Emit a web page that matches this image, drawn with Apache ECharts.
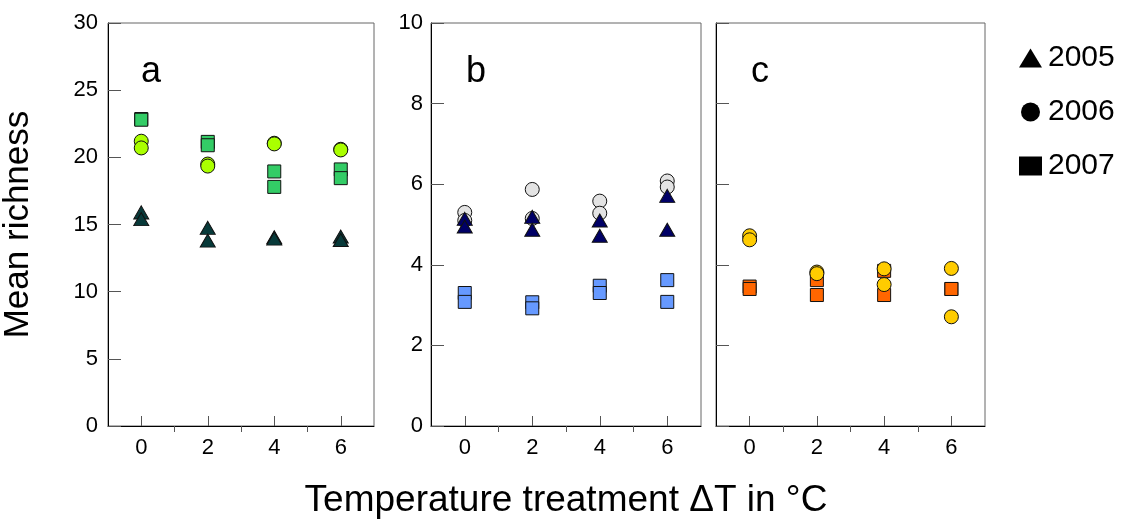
<!DOCTYPE html>
<html>
<head>
<meta charset="utf-8">
<script src="https://cdn.jsdelivr.net/npm/echarts@6/dist/echarts.min.js"></script>
<style>
  html, body { margin: 0; padding: 0; background: #fff; }
  #chart { width: 1126px; height: 524px; }
</style>
</head>
<body>
<div id="chart"></div>
<script>
// Warming treatments (ΔT in °C); two replicate plots per treatment
const treatmentX = [0, 0, 2, 2, 4, 4, 6, 6];
const years = ['2005', '2006', '2007'];

// Panel a: mean richness per plot
const a2005 = [15.9, 15.4, 14.75, 13.8, 14.05, 13.95, 14.1, 13.85];
const a2006 = [21.2, 20.7, 19.5, 19.35, 21.05, 21.0, 20.6, 20.55];
const a2007 = [22.85, 22.8, 21.15, 20.9, 18.95, 17.8, 19.1, 18.45];

// Panel b
const b2005 = [5.14, 4.95, 5.19, 4.87, 5.10, 4.72, 5.71, 4.87];
const b2006 = [5.30, 5.10, 5.87, 5.15, 5.58, 5.28, 6.08, 5.93];
const b2007 = [3.30, 3.08, 3.07, 2.92, 3.48, 3.30, 3.62, 3.08];

// Panel c (no 2005 data)
const c2006 = [4.72, 4.62, 3.82, 3.78, 3.90, 3.51, 3.91, 2.71];
const c2007 = [3.46, 3.40, 3.62, 3.25, 3.85, 3.25, 3.40, 3.40];

const xTickValues = [0, 2, 4, 6];
const xMinorValues = [1, 3, 5];
const panelLetters = ['a', 'b', 'c'];

const FONT = 'Liberation Sans, Arial, Helvetica, sans-serif';

const grids = [
  { left: 106, top: 23, width: 268, height: 403 },
  { left: 431, top: 23, width: 270, height: 403 },
  { left: 716, top: 23, width: 269, height: 403 }
];

const symbolFor = { '2005': 'triangle', '2006': 'circle', '2007': 'rect' };
const sizeFor = { '2005': [15, 13], '2006': 14, '2007': 13 };

function pts(values) {
  return values.map((v, i) => [treatmentX[i], v]);
}

function scatter(panel, year, values, color) {
  return {
    type: 'scatter',
    name: year,
    xAxisIndex: panel * 2,
    yAxisIndex: panel,
    symbol: symbolFor[year],
    symbolSize: sizeFor[year],
    itemStyle: { color: color, borderColor: '#111', borderWidth: 1, opacity: 1 },
    emphasis: { disabled: true },
    data: pts(values)
  };
}

const xAxes = [];
const yAxes = [];
grids.forEach((g, i) => {
  // main x axis: ticks and labels at even treatments
  xAxes.push({
    type: 'value', gridIndex: i, min: -1, max: 7, interval: 1,
    name: i === 1 ? 'Temperature treatment \u0394T in \u00B0C' : '',
    nameLocation: 'middle', nameGap: 56,
    nameTextStyle: { fontFamily: FONT, fontSize: 37, color: '#000' },
    axisLine: { show: true, onZero: false, lineStyle: { color: '#000', width: 1 } },
    axisTick: { show: true, inside: true, length: 10, customValues: xTickValues,
                lineStyle: { color: '#555' } },
    axisLabel: { show: true, customValues: xTickValues, margin: 11,
                 fontFamily: FONT, fontSize: 22, color: '#000' },
    splitLine: { show: false }
  });
  // secondary x axis: short ticks at odd treatments
  xAxes.push({
    type: 'value', gridIndex: i, min: -1, max: 7, interval: 1,
    axisLine: { show: false },
    axisTick: { show: true, inside: true, length: 6, customValues: xMinorValues,
                lineStyle: { color: '#555' } },
    axisLabel: { show: false },
    splitLine: { show: false }
  });
  yAxes.push({
    type: 'value', gridIndex: i, min: 0,
    max: i === 0 ? 30 : 10, interval: i === 0 ? 5 : 2,
    name: i === 0 ? 'Mean richness' : '',
    nameLocation: 'middle', nameRotate: 90, nameGap: 72,
    nameTextStyle: { fontFamily: FONT, fontSize: 35, color: '#000' },
    axisLine: { show: true, onZero: false, lineStyle: { color: '#000', width: 1 } },
    axisTick: { show: true, inside: true, length: 13, lineStyle: { color: '#555' } },
    axisLabel: { show: i !== 2, margin: i === 0 ? 10 : 8,
                 fontFamily: FONT, fontSize: 22, color: '#000' },
    splitLine: { show: false }
  });
});

const series = [
  scatter(0, '2007', a2007, '#33cc66'),
  scatter(0, '2006', a2006, '#aaff00'),
  scatter(0, '2005', a2005, '#083a3a'),
  scatter(1, '2007', b2007, '#6699ff'),
  scatter(1, '2006', b2006, '#e3e3e3'),
  scatter(1, '2005', b2005, '#000066'),
  scatter(2, '2007', c2007, '#ff6600'),
  scatter(2, '2006', c2006, '#ffcc00')
];

const letterX = [151, 476, 760];

const option = {
  animation: false,
  backgroundColor: '#fff',
  grid: grids.map(g => Object.assign({ show: true, borderColor: '#666', borderWidth: 1,
                                        backgroundColor: 'transparent' }, g)),
  xAxis: xAxes,
  yAxis: yAxes,
  legend: {
    orient: 'vertical', left: 1014, top: 38,
    itemWidth: 23, itemHeight: 19, itemGap: 24,
    selectedMode: false,
    textStyle: { fontFamily: FONT, fontSize: 30, color: '#000', lineHeight: 30, padding: [0, 0, 0, 1] },
    data: years.map(y => ({ name: y, icon: symbolFor[y],
                            itemStyle: { color: '#000', borderWidth: 0 } }))
  },
  graphic: panelLetters.map((t, i) => ({
    type: 'text', x: letterX[i], y: 90,
    style: { text: t, font: '36px ' + FONT, fill: '#000',
             textAlign: 'center', textVerticalAlign: 'bottom' }
  })),
  series: series
};

const chart = echarts.init(document.getElementById('chart'), null, { renderer: 'canvas' });
chart.setOption(option);
</script>
</body>
</html>
